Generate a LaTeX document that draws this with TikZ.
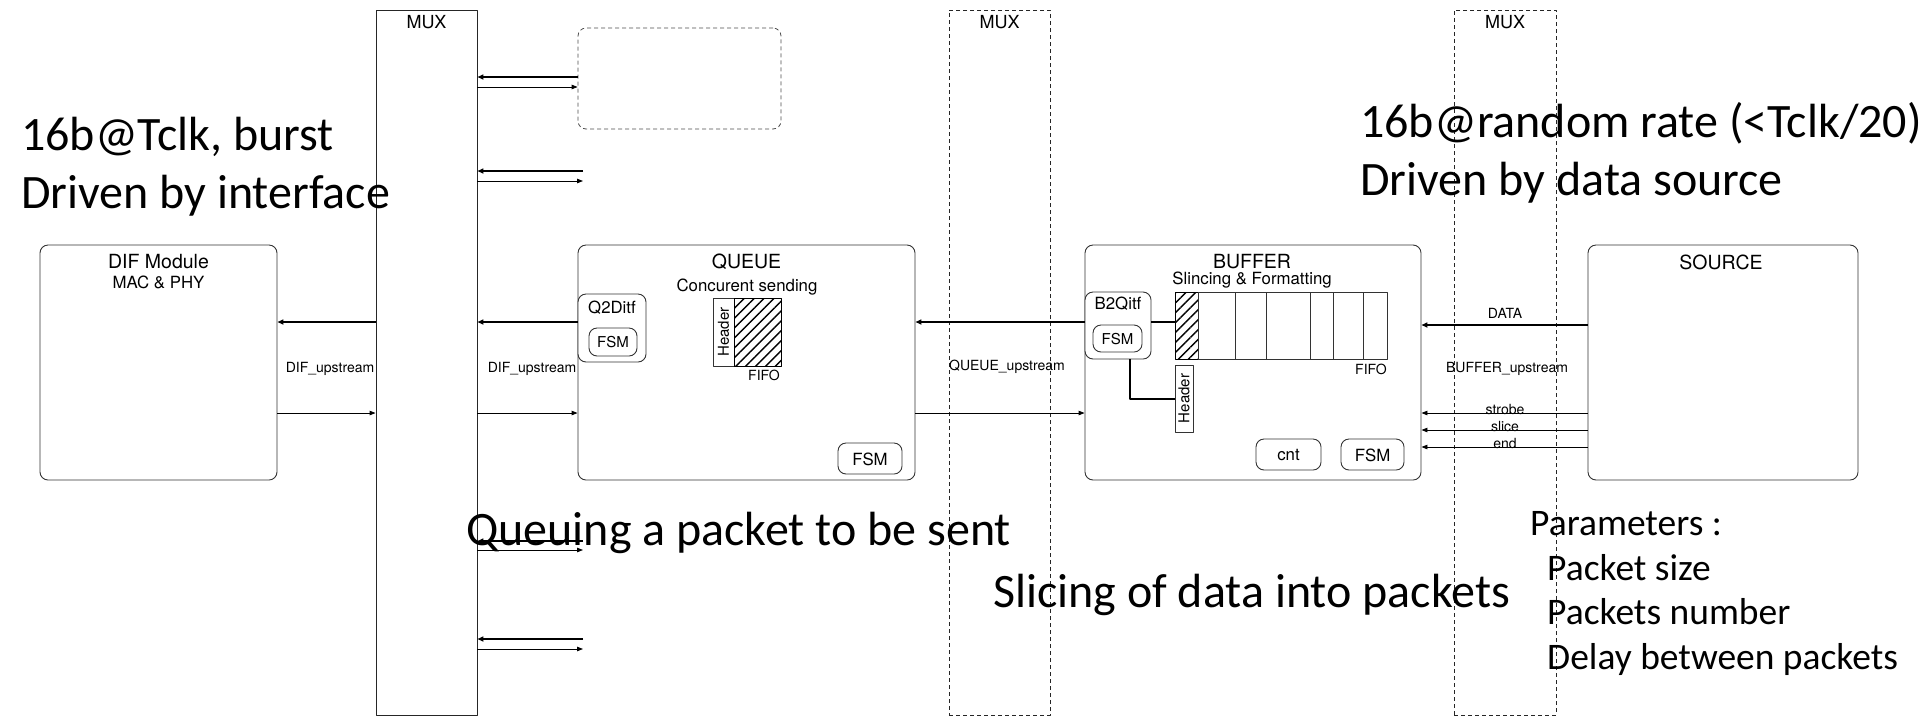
\documentclass[tikz,border=0pt]{standalone}
\usepackage{fontspec}
\setmainfont{Carlito}
\newfontfamily\hv{TeX Gyre Heros}
\usetikzlibrary{arrows.meta,patterns.meta}
\begin{document}
\begin{tikzpicture}[x=1pt,y=-1pt,
  line join=round,
  blk/.style={draw=black!80, line width=0.9pt, rounded corners=8pt, inner sep=0pt, fill=white},
  sq/.style={draw=black!80, line width=0.9pt, inner sep=0pt},
  muxbox/.style={draw=black!85, line width=0.9pt, inner sep=0pt},
  dmux/.style={draw=black!85, line width=0.8pt, dash pattern=on 4pt off 3pt, inner sep=0pt},
  hatch/.style={draw=black, line width=0.9pt, inner sep=0pt, pattern={Lines[angle=45,distance=7pt,line width=1.4pt]}},
  lbl/.style={font=\hv\fontsize{14}{16}\selectfont, inner sep=0pt},
  ttl/.style={font=\hv\fontsize{19.5}{21}\selectfont, inner sep=0pt},
  sub/.style={font=\hv\fontsize{16.8}{18}\selectfont, inner sep=0pt},
  big/.style={font=\fontsize{48}{58}\selectfont, inner sep=0pt, align=left},
  par/.style={font=\fontsize{37.5}{44.5}\selectfont, inner sep=0pt, align=left},
  thk/.style={draw=black, line width=2pt, -{Triangle[length=6pt,width=5pt]}},
  thn/.style={draw=black, line width=0.9pt, -{Triangle[length=6pt,width=4.5pt]}},
  link/.style={draw=black, line width=2pt}
]
\useasboundingbox (0,0) rectangle (1919,716);

% MUX columns
\node[muxbox, minimum width=101pt, minimum height=705pt] (mux1) at (426.5,362.5) {};
\node[dmux, minimum width=101pt, minimum height=705pt] (mux2) at (999.5,362.5) {};
\node[dmux, minimum width=102pt, minimum height=705pt] (mux3) at (1505,362.5) {};
\node[sub, font=\hv\fontsize{18}{20}\selectfont] (m1t) at (426.5,22) {MUX};
\node[sub, font=\hv\fontsize{18}{20}\selectfont] (m2t) at (999.5,22) {MUX};
\node[sub, font=\hv\fontsize{18}{20}\selectfont] (m3t) at (1505,22) {MUX};

% dashed spare block
\node[draw=black!70, line width=0.8pt, dash pattern=on 4pt off 3pt, rounded corners=8pt, minimum width=203pt, minimum height=101pt, inner sep=0pt] (extra) at (679.5,78.5) {};

% main blocks
\node[blk, minimum width=237pt, minimum height=235pt] (dif) at (158.5,362.5) {};
\node[blk, minimum width=337pt, minimum height=235pt] (queue) at (746.5,362.5) {};
\node[blk, minimum width=336pt, minimum height=235pt] (buffer) at (1253,362.5) {};
\node[blk, minimum width=270pt, minimum height=235pt] (source) at (1723,362.5) {};

\node[ttl] (dift) at (158.5,262) {DIF Module};
\node[sub] (difs) at (158.5,282) {MAC \& PHY};
\node[ttl] (queuet) at (746.5,262) {QUEUE};
\node[sub] (queues) at (747,287) {Concurent sending};
\node[ttl] (buffert) at (1252,262) {BUFFER};
\node[sub] (buffers) at (1252,280) {Slincing \& Formatting};
\node[ttl] (sourcet) at (1721,262) {SOURCE};

% queue internals
\node[blk, minimum width=68pt, minimum height=68pt] (q2d) at (612,328) {};
\node[sub] (q2dt) at (612,308) {Q2Ditf};
\node[blk, minimum width=48pt, minimum height=28pt] (qfsm1) at (613,342) {};
\node[lbl, font=\hv\fontsize{15}{17}\selectfont] (qfsm1t) at (613,342) {FSM};
\node[sq, minimum width=21pt, minimum height=68pt] (qhdr) at (723.5,332) {};
\node[lbl, font=\hv\fontsize{15}{17}\selectfont, rotate=90] (qhdrt) at (723.5,332) {Header};
\node[hatch, minimum width=47pt, minimum height=68pt] (qfifo) at (757.5,332) {};
\node[lbl] (qfifot) at (764,375) {FIFO};
\node[blk, minimum width=64pt, minimum height=31pt] (qfsm2) at (870,458.5) {};
\node[sub] (qfsm2t) at (870,459) {FSM};

% buffer internals
\node[blk, minimum width=66pt, minimum height=67pt] (b2q) at (1118,325.5) {};
\node[sub] (b2qt) at (1118,304) {B2Qitf};
\node[blk, minimum width=49pt, minimum height=27pt] (bfsm1) at (1117.5,338.5) {};
\node[lbl, font=\hv\fontsize{15}{17}\selectfont] (bfsm1t) at (1117.5,339) {FSM};
\node[hatch, minimum width=23pt, minimum height=67pt] (bhatch) at (1186.5,325.5) {};
\node[sq, minimum width=189pt, minimum height=67pt] (bfifo) at (1292.5,325.5) {};
\foreach \cx in {1235,1266,1310,1333,1363}
  \draw[black!80, line width=0.9pt] (\cx,292) -- (\cx,359);
\node[lbl, anchor=east] (bfifot) at (1387,369) {FIFO};
\node[sq, minimum width=18pt, minimum height=67pt] (bhdr) at (1184,398.5) {};
\node[lbl, font=\hv\fontsize{15}{17}\selectfont, rotate=90] (bhdrt) at (1184,398.5) {Header};
\node[blk, minimum width=65pt, minimum height=31pt] (cnt) at (1288.5,454.5) {};
\node[sub] (cntt) at (1288.5,455) {cnt};
\node[blk, minimum width=63pt, minimum height=31pt] (bfsm2) at (1372.5,454.5) {};
\node[sub] (bfsm2t) at (1372.5,455) {FSM};

\draw[link] (b2q.east |- 0,322) -- (bhatch.west |- 0,322);
\coordinate (bk) at (1130,399);
\draw[link] (b2q.south -| bk) -- (bk) -- (bhdr.west |- bk);

% row helpers
\coordinate (up) at (0,322);
\coordinate (dn) at (0,413);

% DIF <-> MUX1
\draw[thk] (mux1.west |- up) -- (dif.east |- up);
\draw[thn] (dif.east |- dn) -- (mux1.west |- dn);
\node[lbl] (l1) at (330,369) {DIF\_upstream};

% MUX1 <-> QUEUE
\draw[thk] (q2d.west |- up) -- (mux1.east |- up);
\draw[thn] (mux1.east |- dn) -- (queue.west |- dn);
\node[lbl] (l2) at (532,369) {DIF\_upstream};

% QUEUE <-> BUFFER
\draw[thk] (b2q.west |- up) -- (queue.east |- up);
\draw[thn] (queue.east |- dn) -- (buffer.west |- dn);
\node[lbl] (l3) at (1007,367) {QUEUE\_upstream};

% BUFFER <-> SOURCE
\coordinate (rd) at (0,325);
\draw[thk] (source.west |- rd) -- (buffer.east |- rd);
\node[lbl] (datat) at (1505,313) {DATA};
\node[lbl] (l4) at (1507,369) {BUFFER\_upstream};
\coordinate (rs) at (0,413);
\coordinate (rl) at (0,430);
\coordinate (re) at (0,447);
\draw[thn] (source.west |- rs) -- (buffer.east |- rs);
\draw[thn] (source.west |- rl) -- (buffer.east |- rl);
\draw[thn] (source.west |- re) -- (buffer.east |- re);
\node[lbl, anchor=base] (st) at (1505,414) {strobe};
\node[lbl, anchor=base] (sl) at (1505,431) {slice};
\node[lbl, anchor=base] (en) at (1505,448) {end};

% MUX1 spare ports
\coordinate (r1) at (0,77);
\coordinate (r2) at (0,87);
\draw[thk] (extra.west |- r1) -- (mux1.east |- r1);
\draw[thn] (mux1.east |- r2) -- (extra.west |- r2);
\coordinate (pa) at (583,171);
\coordinate (pb) at (583,181);
\coordinate (pc) at (583,541);
\coordinate (pd) at (583,550);
\coordinate (pe) at (583,639);
\coordinate (pf) at (583,649);
\draw[thk] (pa) -- (mux1.east |- pa);
\draw[thn] (mux1.east |- pb) -- (pb);
\draw[thk] (pc) -- (mux1.east |- pc);
\draw[thn] (mux1.east |- pd) -- (pd);
\draw[thk] (pe) -- (mux1.east |- pe);
\draw[thn] (mux1.east |- pf) -- (pf);

% annotations (base anchor = baseline of last line)
\node[big, anchor=base west] (n1) at (21,208) {16b@Tclk, burst\\Driven by interface};
\node[big, anchor=base west] (n2) at (1360,195) {16b@random rate (<Tclk/20)\\Driven by data source};
\node[big, anchor=base west] (n3) at (466,545) {Queuing a packet to be sent};
\node[big, anchor=base west] (n4) at (993,607) {Slicing of data into packets};
\node[par, anchor=base west] (n5) at (1530,669) {Parameters :\\\hspace*{17pt}Packet size\\\hspace*{17pt}Packets number\\\hspace*{17pt}Delay between packets};
\end{tikzpicture}
\end{document}
